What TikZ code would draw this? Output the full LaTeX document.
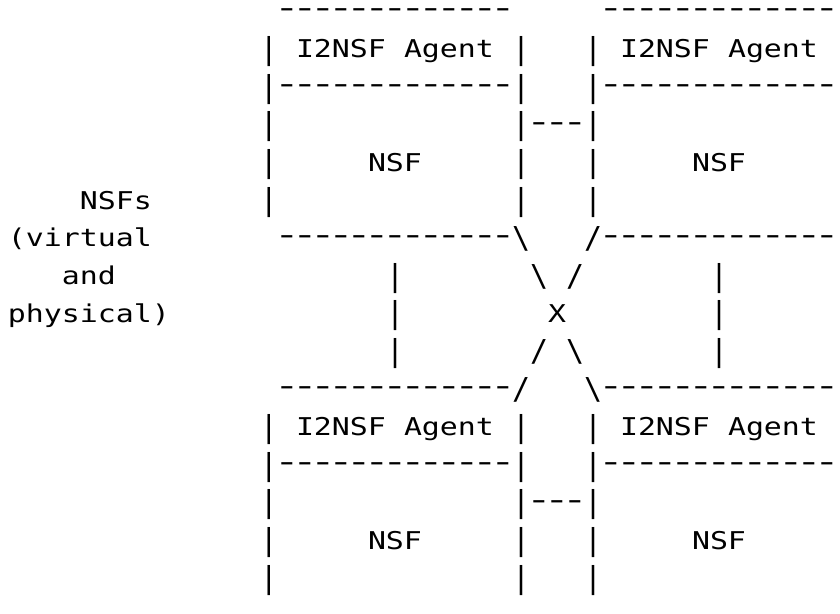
\documentclass[tikz,border=0pt]{standalone}
\usepackage{fontspec}
\setmonofont[FakeStretch=1.22]{DejaVu Sans Mono}
\usepackage{graphicx}
\usepackage{tikz}
% taller bars and slashes, longer dashes lifted to mid height
\newcommand\tall[1]{\raisebox{-1.3pt}{\scalebox{1}[1.23]{#1}}}
\newcommand\dsh{\setbox0\hbox{-}\makebox[\wd0][c]{\scalebox{1.45}[1.15]{-}}}
\newcommand\dashrun[1]{\raisebox{2.4pt}{\foreach \i in {1,...,#1}{\dsh}}}
\tikzset{
	ascii/.style={anchor=base west, inner sep=0pt, outer sep=0pt,
		font=\ttfamily\fontsize{24.5}{25}\selectfont}
}

\begin{document}
\begin{tikzpicture}[x=18pt, y=-37.8pt]
		%%%%% START %%%%%
		\useasboundingbox (-0.444,-0.534) rectangle (46.222,15.683);
		
		% side label
		\node[ascii] (lblA) at (4, 5) {NSFs};
		\node[ascii] (lblB) at (0, 6) {(virtual};
		\node[ascii] (lblC) at (3, 7) {and};
		\node[ascii] (lblD) at (0, 8) {physical)};
		
		% top edge
		\node[ascii] (topL) at (15, 0) {\dashrun{13}};
		\node[ascii] (topR) at (33, 0) {\dashrun{13}};
		
		% upper and lower pair of agent boxes
		\foreach \r/\p in {0/up, 10/lo} {
			\foreach \k in {1,...,5}
				\foreach \c in {14,28,32}
					\node[ascii] (\p-bar-\k-\c) at (\c, \r+\k) {\tall{|}};
			\node[ascii] (\p-agL1) at (16, \r+1) {I2NSF};
			\node[ascii] (\p-agL2) at (22, \r+1) {Agent};
			\node[ascii] (\p-agR1) at (34, \r+1) {I2NSF};
			\node[ascii] (\p-agR2) at (40, \r+1) {Agent};
			\node[ascii] (\p-sepL) at (15, \r+2) {\dashrun{13}};
			\node[ascii] (\p-sepR) at (33, \r+2) {\dashrun{13}};
			\node[ascii] (\p-link) at (29, \r+3) {\dashrun{3}};
			\node[ascii] (\p-nsfL) at (20, \r+4) {NSF};
			\node[ascii] (\p-nsfR) at (38, \r+4) {NSF};
		}
		
		% middle band with the crossing
		\node[ascii] (midL) at (15, 6) {\dashrun{13}};
		\node[ascii] (midL2) at (28, 6) {\tall{\textbackslash}};
		\node[ascii] (midR2) at (32, 6) {\tall{/}};
		\node[ascii] (midR) at (33, 6) {\dashrun{13}};
		
		\foreach \k in {7,8,9}
			\foreach \c in {21,39}
				\node[ascii] (side-\k-\c) at (\c, \k) {\tall{|}};
		\node[ascii] (xa) at (29, 7) {\tall{\textbackslash}};
		\node[ascii] (xb) at (31, 7) {\tall{/}};
		\node[ascii] (xc) at (30, 8) {X};
		\node[ascii] (xd) at (29, 9) {\tall{/}};
		\node[ascii] (xe) at (31, 9) {\tall{\textbackslash}};
		
		\node[ascii] (lowL) at (15, 10) {\dashrun{13}};
		\node[ascii] (lowL2) at (28, 10) {\tall{/}};
		\node[ascii] (lowR2) at (32, 10) {\tall{\textbackslash}};
		\node[ascii] (lowR) at (33, 10) {\dashrun{13}};
		
		%%%%% END %%%%%
\end{tikzpicture}
\end{document}
